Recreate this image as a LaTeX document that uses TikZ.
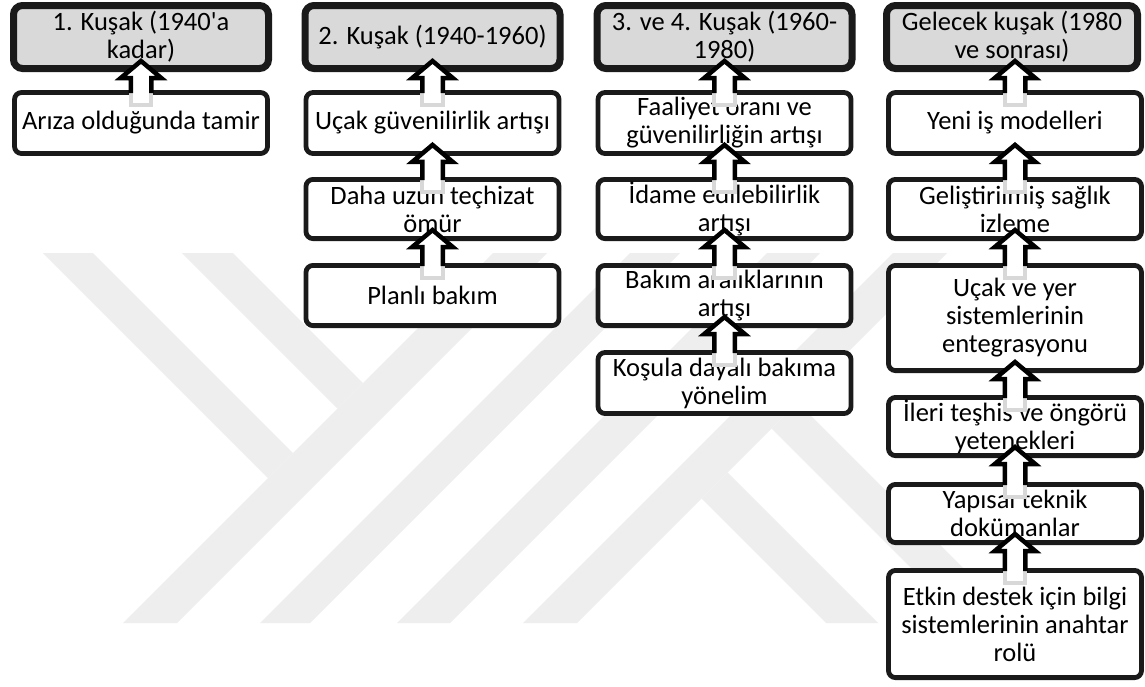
\documentclass[tikz,border=0pt]{standalone}
\usepackage{fontspec}
\setmainfont{Carlito}[Ligatures=TeXOff]
\usetikzlibrary{calc}

\definecolor{hdrfill}{HTML}{D9D9D9}
\definecolor{wmgray}{HTML}{EEEEEE}
\definecolor{fadegray}{HTML}{D8D8D8}
\definecolor{inkline}{HTML}{1A1A1A}

\newcommand{\lbl}{\fontsize{26.5pt}{28pt}\selectfont}

\tikzset{
  hdr/.style={draw=inkline, line width=7pt, fill=hdrfill, rounded corners=9pt,
    minimum width=255pt, minimum height=63pt, inner sep=0pt, align=center, font=\lbl},
  card/.style={draw=inkline, line width=4.8pt, fill=white, rounded corners=7pt,
    minimum width=253pt, inner sep=0pt, align=center, font=\lbl},
  upblock/.style={draw=black, fill=white, line width=4.5pt, line join=miter, miter limit=10},
  upfade/.style={draw=fadegray, fill=white, line width=4pt},
  wm/.style={fill=wmgray},
}

% block arrow rising from the lower card (#2) into the upper card (#1)
\newcommand{\riseto}[2]{%
  \filldraw[upfade] let \p1=(#2.north) in
    (\x1-10.25pt,\y1-3pt) -- (\x1-10.25pt,\y1-15pt) -- (\x1+10.25pt,\y1-15pt) -- (\x1+10.25pt,\y1-3pt);
  \filldraw[upblock] let \p1=(#1.south), \p2=(#2.north) in
    (\x2-10.25pt,\y2-3pt) -- (\x2-10.25pt,\y1-6pt) -- (\x2-20.25pt,\y1-6pt) --
    (\x2,\y1+11pt) -- (\x2+20.25pt,\y1-6pt) -- (\x2+10.25pt,\y1-6pt) -- (\x2+10.25pt,\y2-3pt);
}

\begin{document}
\begin{tikzpicture}[x=1pt, y=-1pt]
\useasboundingbox (0,0) rectangle (1145,686);
\fill[white] (0,0) rectangle (1145,686);

% faint emblem in the background
\fill[wm] (123,623) -- (177,623) -- (547,253) -- (493,253) -- cycle;
\fill[wm] (260,623) -- (310,623) -- (680,253) -- (630,253) -- cycle;
\fill[wm] (397,623) -- (450,623) -- (820,253) -- (767,253) -- cycle;
\fill[wm] (523,623) -- (577,623) -- (947,253) -- (893,253) -- cycle;
\fill[wm] (43,253) -- (93,253) -- (293,453) -- (268,478) -- cycle;
\fill[wm] (182,253) -- (233,253) -- (363,383) -- (337.5,408.5) -- cycle;
\fill[wm] (701.5,498.5) -- (727.5,472.5) -- (878,623) -- (826,623) -- cycle;
\fill[wm] (771.5,428.5) -- (797.5,402.5) -- (1018,623) -- (966,623) -- cycle;

% generation headers
\node[hdr] (h1) at (141,37) {1. Kuşak (1940'a\\kadar)};
\node[hdr] (h2) at (432.5,37) {2. Kuşak (1940-1960)};
\node[hdr] (h3) at (724.5,37) {3. ve 4. Kuşak (1960-\\1980)};
\node[hdr, minimum width=251pt] (h4) at (1012,37) {Gelecek kuşak (1980\\ve sonrası)};

% first generation
\node[card, minimum height=61pt] (a1) at (141,123) {Arıza olduğunda tamir};

% second generation
\node[card, minimum height=61pt]   (b1) at (432.5,123)   {Uçak güvenilirlik artışı};
\node[card, minimum height=59.2pt] (b2) at (432.5,209)   {Daha uzun teçhizat\\ömür};
\node[card, minimum height=60.2pt] (b3) at (432.5,295.5) {Planlı bakım};

% third and fourth generation
\node[card, minimum height=61pt]   (c1) at (724.5,123)   {Faaliyet oranı ve\\güvenilirliğin artışı};
\node[card, minimum height=59.2pt] (c2) at (724.5,209)   {İdame edilebilirlik\\artışı};
\node[card, minimum height=60.2pt] (c3) at (724.5,295.5) {Bakım aralıklarının\\artışı};
\node[card, minimum height=61pt]   (c4) at (724.5,383)   {Koşula dayalı bakıma\\yönelim};

% future generation
\node[card, minimum height=61pt]    (d1) at (1015,123)   {Yeni iş modelleri};
\node[card, minimum height=59.2pt]  (d2) at (1015,209)   {Geliştirilmiş sağlık\\izleme};
\node[card, minimum height=105.2pt] (d3) at (1015,318)   {Uçak ve yer\\sistemlerinin\\entegrasyonu};
\node[card, minimum height=58.2pt]  (d4) at (1015,426.5) {İleri teşhis ve öngörü\\yetenekleri};
\node[card, minimum height=58.2pt]  (d5) at (1015,513.5) {Yapısal teknik\\dokümanlar};
\node[card, minimum height=107.2pt] (d6) at (1015,624)   {Etkin destek için bilgi\\sistemlerinin anahtar\\rolü};

% rising arrows
\riseto{h1}{a1}
\riseto{h2}{b1}
\riseto{b1}{b2}
\riseto{b2}{b3}
\riseto{h3}{c1}
\riseto{c1}{c2}
\riseto{c2}{c3}
\riseto{c3}{c4}
\riseto{h4}{d1}
\riseto{d1}{d2}
\riseto{d2}{d3}
\riseto{d3}{d4}
\riseto{d4}{d5}
\riseto{d5}{d6}
\end{tikzpicture}
\end{document}
